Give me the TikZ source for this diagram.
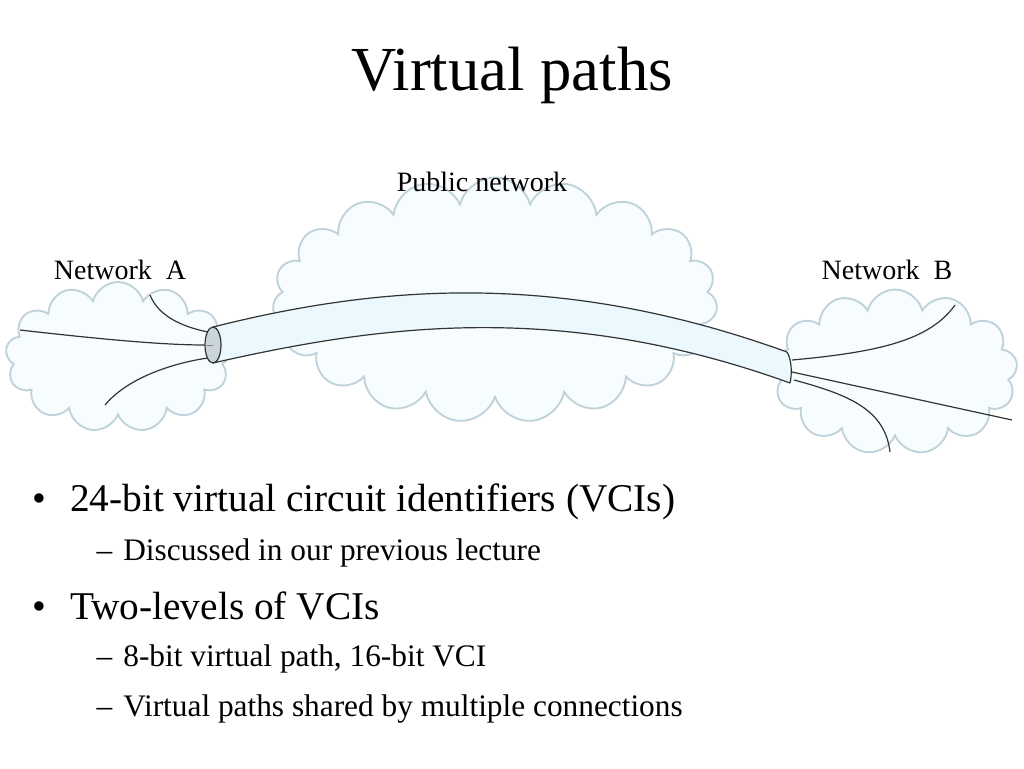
\documentclass[tikz,border=0pt]{standalone}
\usepackage{fontspec}
\setmainfont{Liberation Serif}
\usetikzlibrary{shapes.symbols,shapes.geometric}
\begin{document}
\begin{tikzpicture}[x=0.75pt,y=-0.75pt,
  cl/.style={cloud,cloud puffs=#1,draw=cyan!30!gray!45,fill=cyan!3,line width=1.4pt,inner sep=0pt},
  wire/.style={black!80,line width=0.9pt},
  lab/.style={font=\fontsize{21}{24}\selectfont},
  bul/.style={anchor=west,font=\fontsize{29.5}{32}\selectfont},
  sub/.style={anchor=west,font=\fontsize{23.5}{26}\selectfont}]
\useasboundingbox (0,0) rectangle (1024,768);
\node[cl=13,minimum width=225*0.75pt,minimum height=150*0.75pt,aspect=1.5] (ca) at (118,357) {};
\node[cl=19,minimum width=445*0.75pt,minimum height=245*0.75pt,aspect=1.8] (cp) at (495,300) {};
\node[cl=13,minimum width=245*0.75pt,minimum height=165*0.75pt,aspect=1.5] (cb) at (895,372) {};
\node[font=\fontsize{47}{52}\selectfont] (title) at (512,75) {Virtual paths};
\node[lab] (pn) at (482,182) {Public network};
\node[lab] (na) at (120,270) {Network\enspace A};
\node[lab] (nb) at (887,270) {Network\enspace B};
% tube
\coordinate (tl) at (213,327);
\coordinate (bl) at (213,363);
\coordinate (tr) at (787,352);
\coordinate (br) at (790,383);
\fill[cyan!8] (tl) .. controls (380,285) and (560,270) .. (tr) -- (br) .. controls (560,300) and (380,325) .. (bl) -- cycle;
\draw[wire] (tl) .. controls (380,285) and (560,270) .. (tr);
\draw[wire] (bl) .. controls (380,325) and (560,300) .. (br);
\draw[wire] (tr) .. controls (792,360) and (792,375) .. (br);
\node[ellipse,draw=black!80,fill=cyan!20!gray!40,line width=0.9pt,minimum width=12pt,minimum height=27pt,inner sep=0pt] (el) at (213,345) {};
\draw[black!50] (el.west) ++(3,0) -- ++(6,0);
% wires A
\coordinate (a1) at (150,295);
\coordinate (a2) at (20,330);
\coordinate (a3) at (105,405);
\draw[wire] (a1) .. controls (160,320) and (190,328) .. (el.north west);
\draw[wire] (a2) .. controls (90,338) and (160,345) .. (el.west);
\draw[wire] (a3) .. controls (130,375) and (180,362) .. (el.south west);
% wires B
\coordinate (e1) at (792,360);
\coordinate (e2) at (792,372);
\coordinate (e3) at (794,380);
\coordinate (b1) at (955,305);
\coordinate (b2) at (1012,420);
\coordinate (b3) at (890,452);
\draw[wire] (e1) .. controls (880,352) and (930,340) .. (b1);
\draw[wire] (e2) -- (b2);
\draw[wire] (e3) .. controls (850,395) and (885,410) .. (b3);
% text
\node[bul] (t1) at (28,502) {•\hspace{0.6em}24-bit virtual circuit identifiers (VCIs)};
\node[sub] (t2) at (92,553) {–\hspace{0.35em}Discussed in our previous lecture};
\node[bul] (t3) at (28,606) {•\hspace{0.6em}Two-levels of VCIs};
\node[sub] (t4) at (92,659) {–\hspace{0.35em}8-bit virtual path, 16-bit VCI};
\node[sub] (t5) at (92,709) {–\hspace{0.35em}Virtual paths shared by multiple connections};
\end{tikzpicture}
\end{document}
